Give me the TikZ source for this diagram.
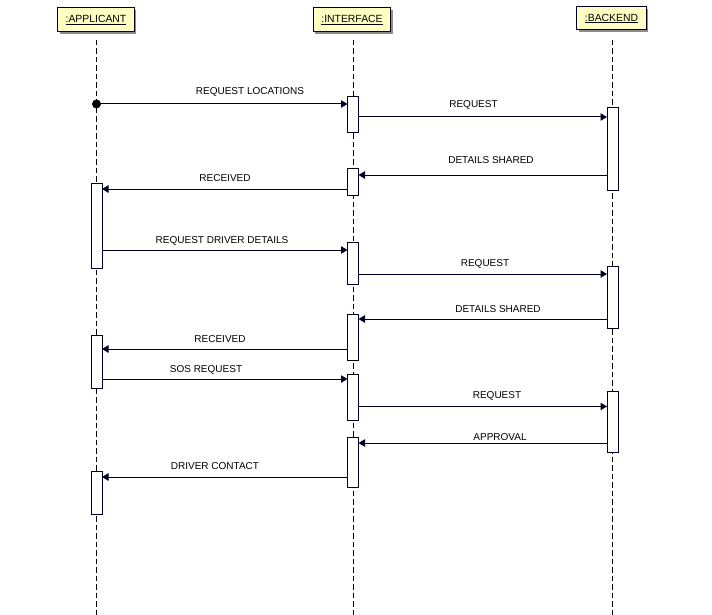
\documentclass[tikz,border=0pt]{standalone}
\usepackage{fontspec}
\setmainfont{Liberation Sans}
\usetikzlibrary{arrows.meta,shadows}
\definecolor{ink}{HTML}{000022}
\definecolor{hdr}{HTML}{FFFFC4}
\begin{document}
\begin{tikzpicture}[x=1pt,y=-1pt,
  every node/.style={font=\fontsize{10}{12}\selectfont},
  header/.style={draw=ink, line width=1pt, fill=hdr, minimum height=24pt, inner xsep=8pt, inner ysep=0pt,
    font=\fontsize{10.4}{12}\selectfont,
    drop shadow={shadow xshift=2pt, shadow yshift=-2pt, fill=black!45, opacity=1}},
  life/.style={draw=black, line width=0.9pt, dash pattern=on 5.5pt off 3pt},
  act/.style={draw=ink, line width=1pt, fill=white, minimum width=11pt, inner sep=0pt, outer sep=0pt},
  msg/.style={draw=ink, line width=1pt, -{Triangle[length=6.5pt,width=7.5pt]}},
  lbl/.style={anchor=base, inner sep=0pt, text=black}
]
\useasboundingbox (0,0) rectangle (712,615);

% headers
\node[header, minimum width=76pt] (ha) at (96,20) {\underline{:APPLICANT}};
\node[header, minimum width=76pt] (hi) at (352,20) {\underline{:INTERFACE}};
\node[header, minimum width=69pt, minimum height=23pt] (hb) at (611.5,18.5) {\underline{:BACKEND}};

% lifeline ends
\coordinate (ea) at (96.5,615);
\coordinate (ei) at (353,615);
\coordinate (eb) at (612.5,615);
\coordinate (sa) at (96.5,40);
\coordinate (si) at (353,40);
\coordinate (sb) at (612.5,40);
\draw[life] (sa) -- (ea);
\draw[life] (si) -- (ei);
\draw[life] (sb) -- (eb);

% activations: interface
\node[act, minimum height=36pt] (i1) at (353,115) {};
\node[act, minimum height=27pt] (i2) at (353,181.5) {};
\node[act, minimum height=42pt] (i3) at (353,263) {};
\node[act, minimum height=46pt] (i4) at (353,337) {};
\node[act, minimum height=46pt] (i5) at (353,397) {};
\node[act, minimum height=50pt] (i6) at (353,462) {};
% backend
\node[act, minimum height=82pt] (b1) at (612.5,149) {};
\node[act, minimum height=62pt] (b2) at (612.5,297) {};
\node[act, minimum height=61pt] (b3) at (612.5,421.5) {};
% applicant
\node[act, minimum height=85pt] (a1) at (96.5,225.5) {};
\node[act, minimum height=53pt] (a2) at (96.5,361.5) {};
\node[act, minimum height=43pt] (a3) at (96.5,492.5) {};

% start dot
\node[circle, fill=black, inner sep=0pt, minimum size=9pt] (dot) at (96.5,104) {};

% messages
\draw[msg] (dot.center) -- (i1.west |- dot.center);
\draw[msg] (i1.east |- 0,117) -- (b1.west |- 0,117);
\draw[msg] (b1.west |- 0,175) -- (i2.east |- 0,175);
\draw[msg] (i2.west |- 0,189) -- (a1.east |- 0,189);
\draw[msg] (a1.east |- 0,250) -- (i3.west |- 0,250);
\draw[msg] (i3.east |- 0,274) -- (b2.west |- 0,274);
\draw[msg] (b2.west |- 0,319) -- (i4.east |- 0,319);
\draw[msg] (i4.west |- 0,349) -- (a2.east |- 0,349);
\draw[msg] (a2.east |- 0,379) -- (i5.west |- 0,379);
\draw[msg] (i5.east |- 0,406.5) -- (b3.west |- 0,406.5);
\draw[msg] (b3.west |- 0,443) -- (i6.east |- 0,443);
\draw[msg] (i6.west |- 0,477) -- (a3.east |- 0,477);

% labels
\node[lbl] (l1) at (250,95) {REQUEST LOCATIONS};
\node[lbl] (l2) at (473.5,108) {REQUEST};
\node[lbl] (l3) at (491,164) {DETAILS SHARED};
\node[lbl] (l4) at (225,181) {RECEIVED};
\node[lbl] (l5) at (222,243) {REQUEST DRIVER DETAILS};
\node[lbl] (l6) at (485,266) {REQUEST};
\node[lbl] (l7) at (498,312) {DETAILS SHARED};
\node[lbl] (l8) at (220,342) {RECEIVED};
\node[lbl] (l9) at (206,372) {SOS REQUEST};
\node[lbl] (l10) at (497,398) {REQUEST};
\node[lbl] (l11) at (500,440) {APPROVAL};
\node[lbl] (l12) at (215,469) {DRIVER CONTACT};
\end{tikzpicture}
\end{document}
